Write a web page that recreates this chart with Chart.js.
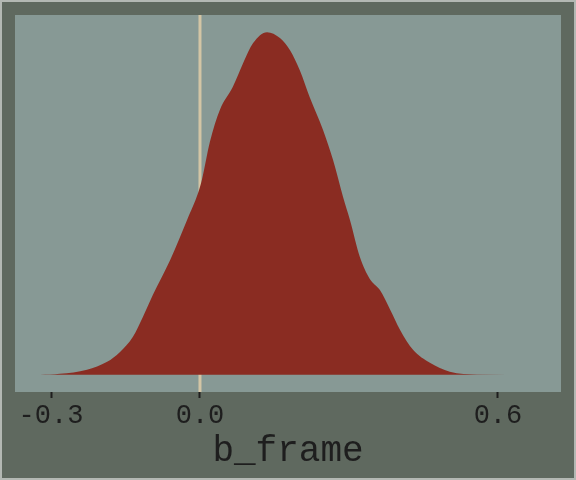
<!DOCTYPE html>
<html>
<head>
<meta charset="utf-8">
<script src="https://cdn.jsdelivr.net/npm/chart.js@4/dist/chart.umd.min.js"></script>
<style>
  html, body { margin: 0; padding: 0; background: #5f695f; }
  #wrap { width: 576px; height: 480px; position: relative; }
</style>
</head>
<body>
<div id="wrap"><canvas id="myChart"></canvas></div>
<script>
// density of b_frame (y scaled so the peak is 1)
const densityX = [-0.322, -0.282, -0.2275, -0.187, -0.161, -0.135, -0.115, -0.095, -0.060, -0.026,
    -0.004, 0.004, 0.020, 0.040, 0.066, 0.087, 0.107, 0.135, 0.161, 0.181, 0.201, 0.221, 0.248,
    0.268, 0.288, 0.302, 0.322, 0.342, 0.362, 0.383, 0.403, 0.429, 0.463, 0.503, 0.558, 0.678];
const densityY = [0, 0.003, 0.015, 0.038, 0.067, 0.111, 0.169, 0.233, 0.335, 0.452,
    0.530, 0.570, 0.680, 0.773, 0.840, 0.910, 0.968, 1.0, 0.983, 0.948, 0.889, 0.810, 0.714,
    0.627, 0.520, 0.452, 0.344, 0.280, 0.248, 0.190, 0.131, 0.073, 0.035, 0.009, 0.001, 0];
const zeroLineX = [0, 0];
const zeroLineY = [-0.05, 1.05];
const tickValues = [-0.3, 0.0, 0.6];
const tickLabels = ['-0.3', '0.0', '0.6'];

const backgrounds = {
    id: 'backgrounds',
    beforeDraw(chart) {
        const c = chart.ctx;
        const a = chart.chartArea;
        c.save();
        c.fillStyle = '#5f695f';
        c.fillRect(0, 0, chart.width, chart.height);
        c.strokeStyle = '#b3b8b3';
        c.lineWidth = 2;
        c.strokeRect(1, 1, chart.width - 2, chart.height - 2);
        c.fillStyle = '#879995';
        c.fillRect(a.left, a.top, a.right - a.left, a.bottom - a.top);
        c.restore();
    }
};

document.addEventListener('DOMContentLoaded', function () {
    const ctx = document.getElementById('myChart');
    new Chart(ctx, {
        type: 'line',
        data: {
            datasets: [{
                data: densityX.map((x, i) => ({ x: x, y: densityY[i] })),
                borderWidth: 0,
                borderColor: 'rgba(0,0,0,0)',
                backgroundColor: '#8a2c22',
                fill: 'origin',
                cubicInterpolationMode: 'monotone',
                pointRadius: 0
            }, {
                data: zeroLineX.map((x, i) => ({ x: x, y: zeroLineY[i] })),
                borderWidth: 3,
                borderColor: '#d3c5a5',
                fill: false,
                pointRadius: 0
            }]
        },
        options: {
            responsive: true,
            maintainAspectRatio: false,
            animation: false,
            layout: { padding: { left: 15, right: 15, top: 15, bottom: 0 } },
            plugins: {
                legend: { display: false },
                tooltip: { enabled: false }
            },
            scales: {
                x: {
                    type: 'linear',
                    min: -0.3725,
                    max: 0.727,
                    afterBuildTicks: function (scale) {
                        scale.ticks = tickValues.map(v => ({ value: v }));
                    },
                    afterFit: function (scale) {
                        scale.height = 88;
                    },
                    grid: {
                        drawOnChartArea: false,
                        drawTicks: true,
                        tickLength: 6,
                        tickWidth: 2,
                        tickColor: '#1e1e1e'
                    },
                    border: { display: false },
                    ticks: {
                        autoSkip: false,
                        maxRotation: 0,
                        padding: 2,
                        color: '#1e1e1e',
                        font: { family: 'Liberation Mono', size: 27 },
                        callback: function (value) {
                            const i = tickValues.indexOf(value);
                            return i >= 0 ? tickLabels[i] : '';
                        }
                    },
                    title: {
                        display: true,
                        text: 'b_frame',
                        color: '#1e1e1e',
                        font: { family: 'Liberation Mono', size: 36 },
                        padding: { top: 0, bottom: 7 }
                    }
                },
                y: {
                    display: false,
                    min: -0.05,
                    max: 1.05
                }
            }
        },
        plugins: [backgrounds]
    });
});
</script>
</body>
</html>
